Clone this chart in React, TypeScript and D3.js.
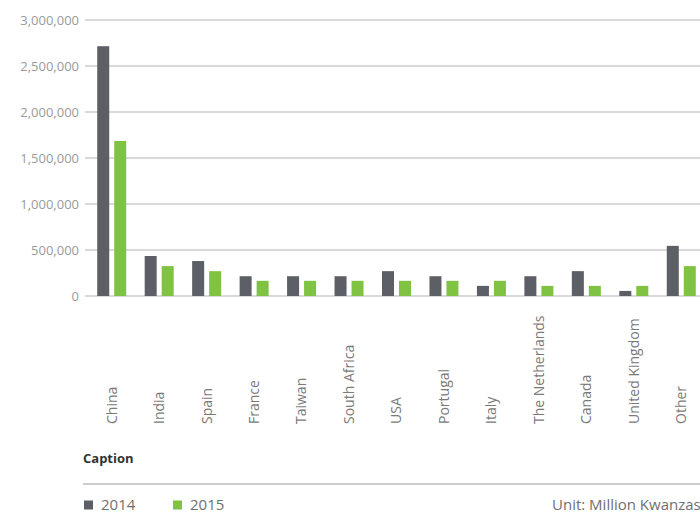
import React from "react";
import * as d3 from "d3";

// Imports by origin, million kwanzas
const countries = [
  "China",
  "India",
  "Spain",
  "France",
  "Taiwan",
  "South Africa",
  "USA",
  "Portugal",
  "Italy",
  "The Netherlands",
  "Canada",
  "United Kingdom",
  "Other",
];
const values2014 = [2715000, 435000, 380000, 215000, 215000, 215000, 270000, 215000, 110000, 215000, 270000, 55000, 545000];
const values2015 = [1685000, 325000, 270000, 165000, 165000, 165000, 165000, 165000, 165000, 110000, 110000, 110000, 325000];
const seriesNames = ["2014", "2015"];
const yTicks = [0, 500000, 1000000, 1500000, 2000000, 2500000, 3000000];

const W = 700;
const H = 513;
const colors = ["#5d5f66", "#80c242"];
const FONT = "'Open Sans', 'Noto Sans', sans-serif";

export default function App() {
  const plotLeft = 85;
  const x = d3.scaleBand<string>().domain(countries).range([88, 705]).padding(0);
  const y = d3.scaleLinear().domain([0, 3000000]).range([296, 20]);
  const fmt = d3.format(",");

  const barW = 12;
  const gap = 5;
  const series = [values2014, values2015];

  return (
    <svg
      width={W}
      height={H}
      style={{ position: "absolute", left: 0, top: 0, fontFamily: FONT }}
    >
      <rect width={W} height={H} fill="#ffffff" />
      {/* gridlines and y labels */}
      {yTicks.map((t) => (
        <g key={t}>
          <line x1={plotLeft} x2={W} y1={y(t)} y2={y(t)} stroke="#cccccc" strokeWidth={1.5} />
          <text
            x={79}
            y={y(t)}
            dy="0.35em"
            textAnchor="end"
            fontSize={13}
            fill="#9a9a9a"
          >
            {fmt(t)}
          </text>
        </g>
      ))}
      {/* bars */}
      {countries.map((c, i) => {
        const cx = (x(c) as number) + x.bandwidth() / 2;
        const start = cx - (barW * 2 + gap) / 2;
        return (
          <g key={c}>
            {series.map((s, k) => (
              <rect
                key={k}
                x={start + k * (barW + gap)}
                y={y(s[i])}
                width={barW}
                height={y(0) - y(s[i])}
                fill={colors[k]}
              />
            ))}
            <text
              transform={`translate(${cx},424) rotate(-90)`}
              dy="0.35em"
              textAnchor="start"
              fontSize={14}
              fill="#7a7a7a"
            >
              {c}
            </text>
          </g>
        );
      })}
      {/* caption */}
      <text x={83} y={458} dy="0.35em" fontSize={13} fontWeight={700} fill="#333333">
        Caption
      </text>
      <line x1={83} x2={W} y1={484} y2={484} stroke="#cccccc" strokeWidth={2} />
      {/* legend */}
      {seriesNames.map((n, k) => {
        const lx = 84 + k * 89;
        return (
          <g key={n}>
            <rect x={lx} y={500.5} width={9} height={9} fill={colors[k]} />
            <text x={lx + 17} y={505} dy="0.35em" fontSize={15} fill="#707070">
              {n}
            </text>
          </g>
        );
      })}
      <text x={552} y={505} dy="0.35em" fontSize={15} fill="#707070">
        Unit: Million Kwanzas
      </text>
    </svg>
  );
}
